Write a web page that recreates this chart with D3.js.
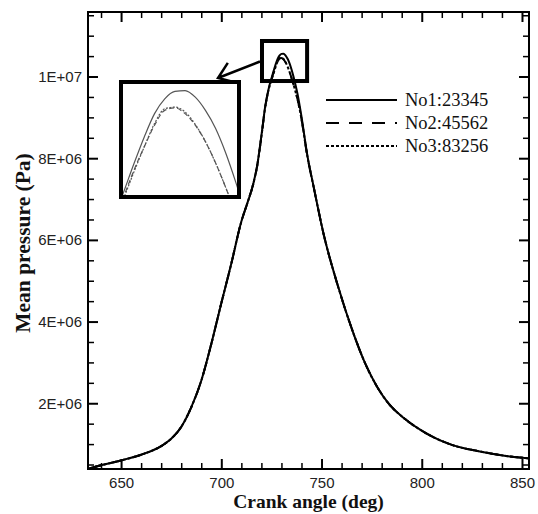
<!DOCTYPE html>
<html>
<head>
<meta charset="utf-8">
<script src="https://cdn.jsdelivr.net/npm/d3@7"></script>
<style>
  html, body { margin: 0; padding: 0; background: #fff; }
  svg { display: block; }
</style>
</head>
<body>
<script>
// crank angle (deg) shared by the three runs
const angle = [634, 640, 650, 660, 670, 675, 680, 685, 690, 695, 700, 705, 710, 713, 716, 718, 720, 722,
  724, 725, 726, 727, 728, 729, 730, 731, 732, 733, 734, 735, 736, 737, 738,
  740, 743, 746, 751, 758, 766, 772, 778, 783, 792, 802, 815, 829, 842, 853.5];

// mean pressure (Pa)
const no1 = [0.40e6, 0.48e6, 0.60e6, 0.74e6, 0.95e6, 1.13e6, 1.42e6, 1.90e6, 2.55e6, 3.45e6, 4.45e6, 5.42e6, 6.45e6, 6.90e6, 7.38e6, 7.85e6, 8.55e6, 9.30e6,
  9.78e6, 9.95e6, 10.12e6, 10.28e6, 10.42e6, 10.51e6, 10.555e6, 10.56e6, 10.52e6, 10.44e6, 10.33e6, 10.18e6, 10.00e6, 9.80e6, 9.58e6,
  9.02e6, 8.05e6, 7.32e6, 6.15e6, 4.90e6, 3.70e6, 2.95e6, 2.38e6, 2.02e6, 1.60e6, 1.27e6, 0.98e6, 0.82e6, 0.71e6, 0.65e6];
const no2 = [0.40e6, 0.48e6, 0.60e6, 0.74e6, 0.95e6, 1.13e6, 1.42e6, 1.90e6, 2.55e6, 3.45e6, 4.45e6, 5.42e6, 6.45e6, 6.90e6, 7.38e6, 7.84e6, 8.53e6, 9.28e6,
  9.75e6, 9.92e6, 10.08e6, 10.22e6, 10.35e6, 10.44e6, 10.455e6, 10.42e6, 10.35e6, 10.25e6, 10.12e6, 9.97e6, 9.80e6, 9.63e6, 9.45e6,
  8.96e6, 8.03e6, 7.31e6, 6.15e6, 4.90e6, 3.70e6, 2.95e6, 2.38e6, 2.02e6, 1.60e6, 1.27e6, 0.98e6, 0.82e6, 0.71e6, 0.65e6];
const no3 = [0.40e6, 0.48e6, 0.60e6, 0.74e6, 0.95e6, 1.13e6, 1.42e6, 1.90e6, 2.55e6, 3.45e6, 4.45e6, 5.42e6, 6.45e6, 6.90e6, 7.38e6, 7.84e6, 8.53e6, 9.28e6,
  9.75e6, 9.91e6, 10.07e6, 10.22e6, 10.36e6, 10.45e6, 10.46e6, 10.43e6, 10.355e6, 10.25e6, 10.12e6, 9.97e6, 9.81e6, 9.63e6, 9.45e6,
  8.96e6, 8.03e6, 7.31e6, 6.15e6, 4.90e6, 3.70e6, 2.95e6, 2.38e6, 2.02e6, 1.60e6, 1.27e6, 0.98e6, 0.82e6, 0.71e6, 0.65e6];

const seriesNames = ["No1:23345", "No2:45562", "No3:83256"];
const xTicks = [650, 700, 750, 800, 850];
const xMinor = [640, 660, 670, 680, 690, 710, 720, 730, 740, 760, 770, 780, 790, 810, 820, 830, 840];
const yTicks = [2e6, 4e6, 6e6, 8e6, 1e7];
const yMinor = [0.5e6, 1e6, 1.5e6, 2.5e6, 3e6, 3.5e6, 4.5e6, 5e6, 5.5e6, 6.5e6, 7e6, 7.5e6, 8.5e6, 9e6, 9.5e6, 10.5e6, 11e6, 11.5e6];

// zoom window around the peak (data units)
const zoomAngle = [720.3, 742.8];
const zoomPress = [9.89e6, 10.87e6];

const width = 538, height = 514;
const serif = "'Liberation Serif', 'DejaVu Serif', serif";
const sans = "'Liberation Sans', Arial, sans-serif";
const dashes = [null, "13,10", "3,2"];
const insetDashes = [null, "5,3", "2,1.5"];

const x = d3.scaleLinear().domain([633.5, 853.5]).range([88, 529]);
const y = d3.scaleLinear().domain([0.39e6, 11.58e6]).range([469, 12]);

function sci(v) {
    const e = Math.floor(Math.log10(v) + 1e-9);
    const m = Math.round(v / Math.pow(10, e));
    return `${m}E+${String(e).padStart(2, "0")}`;
}

const svg = d3.select("body").append("svg")
    .attr("width", width)
    .attr("height", height);

svg.append("defs").append("clipPath").attr("id", "plot-clip")
    .append("rect")
    .attr("x", x.range()[0]).attr("y", y.range()[1])
    .attr("width", x.range()[1] - x.range()[0])
    .attr("height", y.range()[0] - y.range()[1]);

function styleAxis(g, w) {
    g.select(".domain").remove();
    g.selectAll(".tick line").attr("stroke", "#000").attr("stroke-width", w);
    g.selectAll(".tick text").attr("fill", "#222").attr("font-family", sans).attr("font-size", 15);
}

// major + minor ticks, all pointing inward
svg.append("g").attr("transform", `translate(0,${y.range()[0]})`)
    .call(d3.axisBottom(x).tickValues(xTicks).tickSizeInner(-10).tickSizeOuter(0).tickPadding(8))
    .call(g => styleAxis(g, 2));
svg.append("g").attr("transform", `translate(0,${y.range()[0]})`)
    .call(d3.axisBottom(x).tickValues(xMinor).tickSizeInner(-6).tickSizeOuter(0).tickFormat(""))
    .call(g => styleAxis(g, 1.5));
svg.append("g").attr("transform", `translate(0,${y.range()[1]})`)
    .call(d3.axisTop(x).tickValues(xTicks).tickSizeInner(-10).tickSizeOuter(0).tickFormat(""))
    .call(g => styleAxis(g, 2));
svg.append("g").attr("transform", `translate(0,${y.range()[1]})`)
    .call(d3.axisTop(x).tickValues(xMinor).tickSizeInner(-6).tickSizeOuter(0).tickFormat(""))
    .call(g => styleAxis(g, 1.5));

svg.append("g").attr("transform", `translate(${x.range()[0]},0)`)
    .call(d3.axisLeft(y).tickValues(yTicks).tickSizeInner(-10).tickSizeOuter(0).tickPadding(6).tickFormat(sci))
    .call(g => styleAxis(g, 2));
svg.append("g").attr("transform", `translate(${x.range()[0]},0)`)
    .call(d3.axisLeft(y).tickValues(yMinor).tickSizeInner(-6).tickSizeOuter(0).tickFormat(""))
    .call(g => styleAxis(g, 1.5));
svg.append("g").attr("transform", `translate(${x.range()[1]},0)`)
    .call(d3.axisRight(y).tickValues(yTicks).tickSizeInner(-10).tickSizeOuter(0).tickFormat(""))
    .call(g => styleAxis(g, 2));
svg.append("g").attr("transform", `translate(${x.range()[1]},0)`)
    .call(d3.axisRight(y).tickValues(yMinor).tickSizeInner(-6).tickSizeOuter(0).tickFormat(""))
    .call(g => styleAxis(g, 1.5));

// frame
svg.append("rect")
    .attr("x", x.range()[0]).attr("y", y.range()[1])
    .attr("width", x.range()[1] - x.range()[0])
    .attr("height", y.range()[0] - y.range()[1])
    .attr("fill", "none").attr("stroke", "#000").attr("stroke-width", 2);

// curves
const series = [no1, no2, no3];
const line = d3.line()
    .x((d, i) => x(angle[i]))
    .y(d => y(d))
    .curve(d3.curveMonotoneX);

svg.append("g").attr("clip-path", "url(#plot-clip)")
    .selectAll("path")
    .data(series)
    .join("path")
    .attr("d", line)
    .attr("fill", "none")
    .attr("stroke", "#000")
    .attr("stroke-width", 2)
    .attr("stroke-dasharray", (d, i) => dashes[i]);

// zoom box on the peak
svg.append("rect")
    .attr("x", x(zoomAngle[0])).attr("y", y(zoomPress[1]))
    .attr("width", x(zoomAngle[1]) - x(zoomAngle[0]))
    .attr("height", y(zoomPress[0]) - y(zoomPress[1]))
    .attr("fill", "none").attr("stroke", "#000").attr("stroke-width", 4);

// arrow from box to inset
const tail = [x(zoomAngle[0]) - 2, 61.5], tip = [218, 78];
const ang = Math.atan2(tail[1] - tip[1], tail[0] - tip[0]);
const arm = 18, spread = 0.62;
svg.append("path")
    .attr("d", `M${tail[0]},${tail[1]}L${tip[0]},${tip[1]}` +
        `M${tip[0] + arm * Math.cos(ang - spread)},${tip[1] + arm * Math.sin(ang - spread)}L${tip[0]},${tip[1]}` +
        `L${tip[0] + arm * Math.cos(ang + spread)},${tip[1] + arm * Math.sin(ang + spread)}`)
    .attr("fill", "none").attr("stroke", "#000").attr("stroke-width", 2.5);

// inset: magnified peak
const inset = { x: 121, y: 82, w: 118, h: 115 };
const xi = d3.scaleLinear().domain([724.9, 736.1]).range([inset.x + 2, inset.x + inset.w - 2]);
const yi = d3.scaleLinear().domain([9.92e6, 10.60e6]).range([inset.y + inset.h - 1, inset.y + 2]);

svg.select("defs").append("clipPath").attr("id", "inset-clip")
    .append("rect")
    .attr("x", inset.x + 2).attr("y", inset.y + 2)
    .attr("width", inset.w - 4).attr("height", inset.h - 4);

svg.append("rect")
    .attr("x", inset.x).attr("y", inset.y)
    .attr("width", inset.w).attr("height", inset.h)
    .attr("fill", "#fff");

const insetLine = d3.line()
    .x((d, i) => xi(angle[i]))
    .y(d => yi(d))
    .curve(d3.curveMonotoneX);

svg.append("g").attr("clip-path", "url(#inset-clip)")
    .selectAll("path")
    .data(series)
    .join("path")
    .attr("d", insetLine)
    .attr("fill", "none")
    .attr("stroke", "#555")
    .attr("stroke-width", 1.2)
    .attr("stroke-dasharray", (d, i) => insetDashes[i]);

svg.append("rect")
    .attr("x", inset.x).attr("y", inset.y)
    .attr("width", inset.w).attr("height", inset.h)
    .attr("fill", "none").attr("stroke", "#000").attr("stroke-width", 4);

// legend
const legend = svg.append("g").attr("transform", "translate(326,100)");
seriesNames.forEach((name, i) => {
    const row = legend.append("g").attr("transform", `translate(0,${i * 23})`);
    row.append("line")
        .attr("x1", 0).attr("x2", 71)
        .attr("stroke", "#000").attr("stroke-width", 2)
        .attr("stroke-dasharray", dashes[i]);
    row.append("text")
        .attr("x", 79).attr("y", 6)
        .attr("font-family", serif).attr("font-size", 18.5)
        .attr("fill", "#111")
        .text(name);
});

// axis titles
svg.append("text")
    .attr("x", (x.range()[0] + x.range()[1]) / 2).attr("y", 508)
    .attr("text-anchor", "middle")
    .attr("font-family", serif).attr("font-weight", "bold").attr("font-size", 19.5)
    .attr("fill", "#111")
    .text("Crank angle (deg)");

svg.append("text")
    .attr("transform", "translate(30,243) rotate(-90)")
    .attr("text-anchor", "middle")
    .attr("font-family", serif).attr("font-weight", "bold").attr("font-size", 21.5)
    .attr("fill", "#111")
    .text("Mean pressure (Pa)");
</script>
</body>
</html>
